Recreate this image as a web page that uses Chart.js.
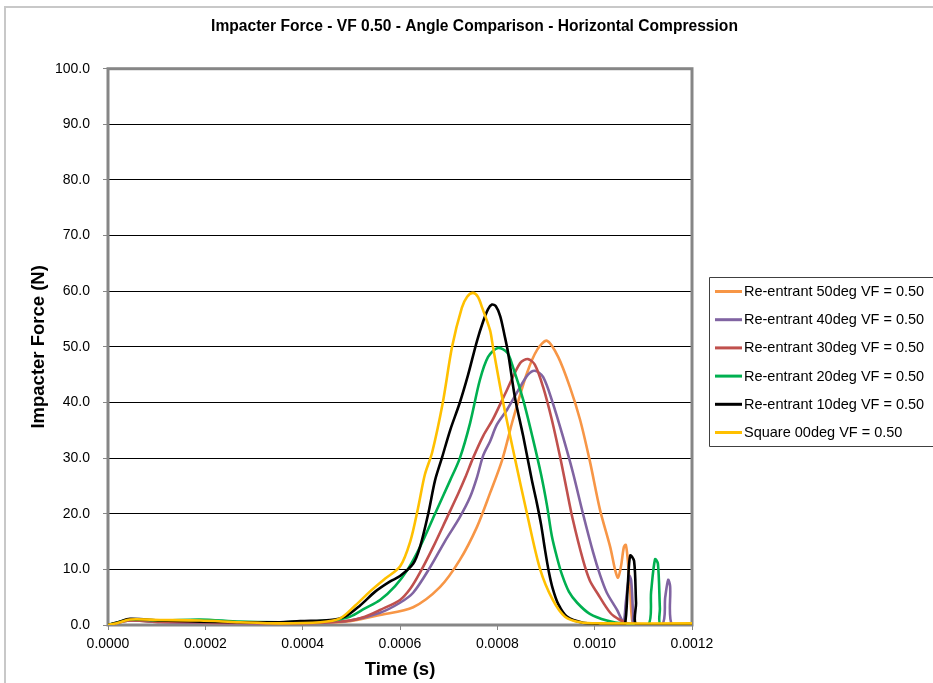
<!DOCTYPE html>
<html>
<head>
<meta charset="utf-8">
<title>Impacter Force - VF 0.50 - Angle Comparison</title>
<script src="https://cdn.jsdelivr.net/npm/chart.js@4.4.1/dist/chart.umd.min.js"></script>
<style>
  html, body { margin: 0; padding: 0; background: #fff; }
  canvas { display: block; }
</style>
</head>
<body>
<canvas id="forceChart" width="933" height="683"></canvas>
<script>
// time (s) / impacter force (N) samples per cell geometry
var timeRe50 = [0, 0.000045, 0.000107, 0.000189, 0.000271, 0.000353, 0.000436, 0.000497, 0.000559, 0.000627,
  0.000682, 0.000723, 0.000758, 0.000785, 0.000810, 0.000832, 0.000861, 0.000882, 0.000902, 0.000925,
  0.000949, 0.000970, 0.000990, 0.001011, 0.001032, 0.001042, 0.001048, 0.001054, 0.001060, 0.001064,
  0.001068, 0.001073, 0.001077, 0.001083, 0.0012];
var forceRe50 = [0, 0.8, 0.5, 0.4, 0.3, 0.3, 0.4, 0.7, 1.8, 3.2,
  6.8, 11.7, 17.6, 23.7, 29.7, 36.9, 45.3, 49.5, 51.1, 48.2,
  42.8, 36.9, 29.5, 20.7, 14.0, 9.9, 8.5, 10.5, 14.0, 14.4,
  11.7, 6.0, 0.9, 0, 0];

var timeRe40 = [0, 0.000045, 0.000107, 0.000189, 0.000271, 0.000353, 0.000436, 0.000497, 0.000559, 0.000600,
  0.000627, 0.000662, 0.000692, 0.000723, 0.000744, 0.000758, 0.000771, 0.000785, 0.000799, 0.000820,
  0.000847, 0.000863, 0.000877, 0.000894, 0.000914, 0.000935, 0.000955, 0.000976, 0.000997, 0.001011,
  0.001025, 0.001046, 0.001056, 0.001060, 0.001064, 0.001071, 0.001075, 0.001079, 0.001081, 0.001138,
  0.001145, 0.001151, 0.001155, 0.001159, 0.0012];
var forceRe40 = [0, 0.8, 0.5, 0.4, 0.3, 0.3, 0.4, 0.8, 2.2, 4.0,
  5.8, 10.4, 15.0, 19.4, 23.0, 26.5, 30.5, 33.0, 36.0, 38.7,
  42.8, 45.0, 45.7, 44.6, 39.9, 33.8, 27.5, 20.0, 13.0, 9.0,
  5.8, 2.7, 0.9, 0.5, 4.0, 8.8, 8.0, 2.0, 0, 0,
  5.0, 8.1, 7.0, 0, 0];

var timeRe30 = [0, 0.000045, 0.000107, 0.000189, 0.000271, 0.000353, 0.000436, 0.000497, 0.000528, 0.000559,
  0.000600, 0.000621, 0.000641, 0.000668, 0.000697, 0.000719, 0.000734, 0.000750, 0.000771, 0.000791,
  0.000820, 0.000847, 0.000863, 0.000877, 0.000894, 0.000912, 0.000929, 0.000941, 0.000955, 0.000976,
  0.000990, 0.001005, 0.001032, 0.001052, 0.001073, 0.0012];
var forceRe30 = [0, 0.8, 0.6, 0.5, 0.4, 0.3, 0.4, 0.8, 1.5, 2.7,
  4.5, 6.5, 9.4, 14.0, 19.4, 23.5, 26.5, 30.0, 34.0, 37.0,
  42.3, 47.1, 47.8, 46.8, 42.8, 36.9, 30.2, 25.0, 19.0, 11.7,
  8.0, 5.8, 2.2, 0.9, 0.2, 0];

var timeRe20 = [0, 0.000021, 0.000045, 0.000107, 0.000189, 0.000271, 0.000353, 0.000395, 0.000456, 0.000497,
  0.000528, 0.000559, 0.000590, 0.000616, 0.000641, 0.000672, 0.000703, 0.000723, 0.000744, 0.000764,
  0.000781, 0.000801, 0.000820, 0.000832, 0.000853, 0.000873, 0.000890, 0.000902, 0.000912, 0.000923,
  0.000933, 0.000947, 0.000964, 0.000990, 0.001025, 0.001062, 0.001110, 0.001116, 0.001124, 0.001130,
  0.001134, 0.001136, 0.0012];
var forceRe20 = [0, 0.5, 1.0, 0.8, 1.0, 0.6, 0.5, 0.6, 0.8, 1.5,
  3.0, 4.5, 7.0, 10.0, 14.0, 20.0, 26.0, 30.0, 36.3, 44.0,
  48.2, 49.8, 49.0, 46.4, 40.5, 33.5, 27.0, 21.5, 16.0, 12.0,
  9.0, 6.0, 4.0, 2.0, 0.8, 0.2, 0, 6.0, 11.8, 11.0,
  3.0, 0, 0];

var timeRe10 = [0, 0.000021, 0.000045, 0.000107, 0.000189, 0.000271, 0.000353, 0.000395, 0.000456, 0.000487,
  0.000518, 0.000549, 0.000579, 0.000600, 0.000627, 0.000641, 0.000658, 0.000672, 0.000686, 0.000703,
  0.000723, 0.000740, 0.000758, 0.000771, 0.000781, 0.000789, 0.000797, 0.000806, 0.000815, 0.000822,
  0.000836, 0.000853, 0.000871, 0.000881, 0.000890, 0.000898, 0.000906, 0.000914, 0.000925, 0.000943,
  0.000976, 0.001011, 0.001052, 0.001062, 0.001068, 0.001073, 0.001081, 0.001085, 0.001087, 0.0012];
var forceRe10 = [0, 0.5, 1.1, 0.8, 0.6, 0.5, 0.5, 0.7, 0.9, 1.5,
  3.5, 6.0, 7.8, 8.8, 11.0, 14.0, 20.0, 26.0, 30.0, 35.0,
  40.0, 45.0, 51.0, 54.6, 56.8, 57.6, 57.3, 55.5, 52.0, 49.0,
  41.0, 34.0, 26.0, 22.0, 18.0, 13.5, 9.5, 6.5, 3.8, 1.5,
  0.4, 0.2, 0, 0, 7.0, 12.5, 11.5, 4.0, 0, 0];

var timeSq00 = [0, 0.000021, 0.000045, 0.000107, 0.000189, 0.000271, 0.000353, 0.000436, 0.000477, 0.000508,
  0.000538, 0.000569, 0.000600, 0.000621, 0.000637, 0.000651, 0.000666, 0.000688, 0.000707, 0.000727,
  0.000738, 0.000750, 0.000760, 0.000769, 0.000785, 0.000791, 0.000812, 0.000836, 0.000861, 0.000888,
  0.000914, 0.000939, 0.000970, 0.001011, 0.0012];
var forceSq00 = [0, 0.4, 1.0, 0.9, 0.8, 0.5, 0.3, 0.5, 1.2, 3.5,
  6.0, 8.3, 10.5, 15.0, 21.0, 27.0, 31.0, 40.0, 50.0, 57.0,
  59.0, 59.7, 59.0, 57.0, 53.0, 50.0, 40.0, 30.0, 20.0, 10.0,
  4.5, 1.5, 0.5, 0.3, 0.3];

var seriesNames = [
  'Re-entrant 50deg VF = 0.50',
  'Re-entrant 40deg VF = 0.50',
  'Re-entrant 30deg VF = 0.50',
  'Re-entrant 20deg VF = 0.50',
  'Re-entrant 10deg VF = 0.50',
  'Square 00deg VF = 0.50'
];
var seriesTimes = [timeRe50, timeRe40, timeRe30, timeRe20, timeRe10, timeSq00];
var seriesForces = [forceRe50, forceRe40, forceRe30, forceRe20, forceRe10, forceSq00];
var lineColors = ['#F79646', '#8064A2', '#C0504D', '#00B050', '#000000', '#FFC000'];

var fontName = "'Liberation Sans', Arial, sans-serif";

function toPoints(times, forces) {
  var pts = [];
  for (var i = 0; i < times.length; i++) {
    pts.push({ x: times[i], y: forces[i] });
  }
  return pts;
}

var datasets = seriesNames.map(function (name, i) {
  return {
    label: name,
    data: toPoints(seriesTimes[i], seriesForces[i]),
    borderColor: lineColors[i],
    backgroundColor: lineColors[i],
    borderWidth: 2.6,
    pointRadius: 0,
    tension: 0.3,
    yAxisID: 'y',
    order: seriesNames.length - 1 - i   // later series sit on top
  };
});

// plot frame, outer border and the boxed legend on the right
var chartDecor = {
  id: 'chartDecor',
  beforeDraw: function (chart) {
    var ctx = chart.ctx;
    ctx.save();
    ctx.fillStyle = '#fff';
    ctx.fillRect(0, 0, chart.width, chart.height);
    ctx.strokeStyle = '#c8c8c8';
    ctx.lineWidth = 2;
    ctx.beginPath();
    ctx.moveTo(5, chart.height);
    ctx.lineTo(5, 7);
    ctx.lineTo(chart.width, 7);
    ctx.stroke();
    ctx.restore();
  },
  beforeDatasetsDraw: function (chart) {
    var a = chart.chartArea;
    var ctx = chart.ctx;
    ctx.save();
    ctx.strokeStyle = '#868686';
    ctx.lineWidth = 3;
    ctx.strokeRect(a.left, a.top, a.right - a.left, a.bottom - a.top);
    ctx.restore();
  },
  afterDraw: function (chart) {
    var ctx = chart.ctx;
    var left = 709.5, top = 277.5, bottom = 446.5;
    ctx.save();
    ctx.strokeStyle = '#404040';
    ctx.lineWidth = 1;
    ctx.beginPath();
    ctx.moveTo(chart.width + 2, top);
    ctx.lineTo(left, top);
    ctx.lineTo(left, bottom);
    ctx.lineTo(chart.width + 2, bottom);
    ctx.stroke();

    ctx.font = '14.5px ' + fontName;
    ctx.textBaseline = 'middle';
    ctx.fillStyle = '#000';
    chart.data.datasets.forEach(function (ds, i) {
      var y = 291.5 + i * 28.2;
      ctx.strokeStyle = ds.borderColor;
      ctx.lineWidth = 3;
      ctx.beginPath();
      ctx.moveTo(715, y);
      ctx.lineTo(742, y);
      ctx.stroke();
      ctx.fillText(ds.label, 744, y + 0.5);
    });
    ctx.restore();
  }
};

new Chart(document.getElementById('forceChart'), {
  type: 'line',
  data: { datasets: datasets },
  options: {
    responsive: false,
    animation: false,
    layout: { padding: { left: 16, right: 0, top: 8, bottom: 0 } },
    plugins: {
      legend: { display: false },
      tooltip: { enabled: false },
      title: {
        display: true,
        text: 'Impacter Force - VF 0.50 - Angle Comparison - Horizontal Compression',
        color: '#000',
        font: { family: fontName, size: 15.6, weight: 'bold' },
        padding: { top: 9, bottom: 33 }
      }
    },
    scales: {
      x: {
        type: 'linear',
        min: 0,
        max: 0.0012,
        grid: { drawOnChartArea: false, drawTicks: true, tickLength: 5, tickColor: '#868686' },
        border: { display: false },
        ticks: {
          stepSize: 0.0002,
          padding: 6,
          color: '#000',
          font: { family: fontName, size: 14 },
          callback: function (v) { return v.toFixed(4); }
        },
        title: {
          display: true,
          text: 'Time (s)',
          color: '#000',
          font: { family: fontName, size: 18.5, weight: 'bold' },
          padding: { top: 0, bottom: 2 }
        },
        afterFit: function (scale) { scale.height = 58; }
      },
      y: {
        min: 0,
        max: 100,
        grid: { color: '#000', lineWidth: 1, tickLength: 5, tickColor: '#868686' },
        border: { display: false },
        ticks: {
          stepSize: 10,
          padding: 13,
          color: '#000',
          font: { family: fontName, size: 14 },
          callback: function (v) { return v.toFixed(1); }
        },
        title: {
          display: true,
          text: 'Impacter Force (N)',
          color: '#000',
          font: { family: fontName, size: 18.5, weight: 'bold' },
          padding: { top: 12, bottom: 0 }
        },
        afterFit: function (scale) { scale.width = 92; }
      },
      legendSpace: {
        position: 'right',
        grid: { display: false, drawTicks: false },
        border: { display: false },
        ticks: { display: false },
        afterFit: function (scale) { scale.width = 241; }
      }
    }
  },
  plugins: [chartDecor]
});
</script>
</body>
</html>
